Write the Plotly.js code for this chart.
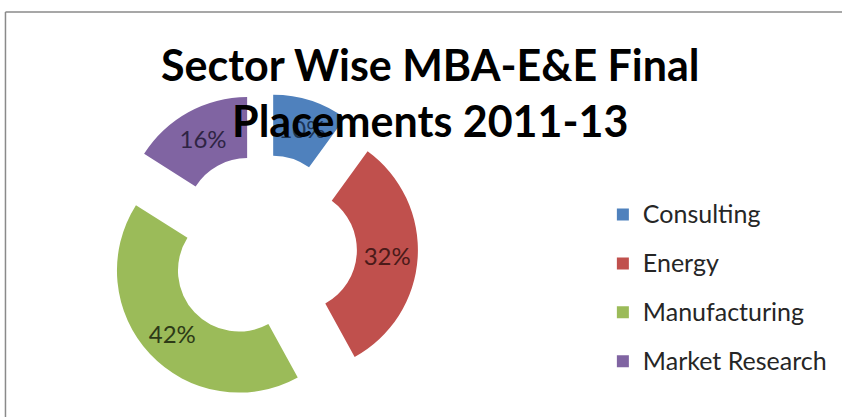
<!DOCTYPE html>
<html>
<head>
<meta charset="utf-8">
<script src="https://cdn.plot.ly/plotly-3.0.1.min.js"></script>
<style>html,body{margin:0;padding:0;background:#fff;} #chart{width:842px;height:417px;}</style>
</head>
<body>
<div id="chart"></div>
<script>
const categories = ['Consulting', 'Energy', 'Manufacturing', 'Market Research'];
const shares = [10, 32, 42, 16];
const sliceColors = ['#4F81BD', '#C0504D', '#9BBB59', '#8064A2'];
const labelColors = ['#1c3557', '#4a1a19', '#2d3a17', '#2f2444'];
const titleText = 'Sector Wise MBA-E&amp;E Final<br>Placements 2011-13';

const legendLabels = categories.map(c => '<span style="font-size:25px;baseline-shift:5px">' + c + '</span>');

const trace = {
  type: 'pie',
  labels: legendLabels,
  values: shares,
  sort: false,
  direction: 'clockwise',
  rotation: 0,
  hole: 0.5,
  pull: 0.27,
  marker: {colors: sliceColors, line: {width: 0}},
  textinfo: 'percent',
  texttemplate: '%{percent:.0%}',
  textposition: 'inside',
  insidetextorientation: 'horizontal',
  textfont: {family: 'Lato', size: 24, color: labelColors},
  domain: {x: [0.1283, 0.4964], y: [0.0336, 0.777]},
  hoverinfo: 'skip'
};

const layout = {
  width: 842,
  height: 417,
  margin: {l: 0, r: 0, t: 0, b: 0},
  paper_bgcolor: '#ffffff',
  plot_bgcolor: '#ffffff',
  showlegend: true,
  title: {
    text: titleText,
    font: {family: 'Lato', size: 43, weight: 'bold', color: '#000000'},
    x: 0.511, xanchor: 'center',
    y: 0.805, yanchor: 'top', yref: 'container'
  },
  legend: {
    x: 0.716, xanchor: 'left',
    y: 0.309, yanchor: 'middle',
    font: {family: 'Lato', size: 35.3, color: '#262626'},
    bgcolor: 'rgba(0,0,0,0)'
  },
  shapes: [
    {type: 'line', xref: 'paper', yref: 'paper', x0: 0.0065, x1: 0.0065, y0: 0, y1: 0.971, line: {color: '#8a8a8a', width: 1.5}},
    {type: 'line', xref: 'paper', yref: 'paper', x0: 0.0065, x1: 1, y0: 0.971, y1: 0.971, line: {color: '#8a8a8a', width: 1.5}}
  ]
};

Plotly.newPlot('chart', [trace], layout, {displayModeBar: false, staticPlot: true});
</script>
</body>
</html>
